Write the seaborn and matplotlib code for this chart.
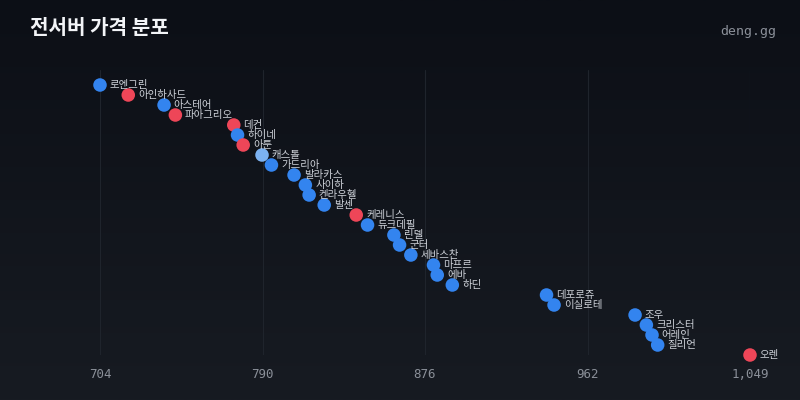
import numpy as np
import pandas as pd
import matplotlib
matplotlib.use("Agg")
from matplotlib import pyplot as plt
from matplotlib.colors import LinearSegmentedColormap
import seaborn as sns

servers = ['로엔그린', '아인하사드', '아스테어', '파아그리오', '데컨', '하이네', '아툰',
           '캐스톨', '가드리아', '발라카스', '사이하', '켄라우헬', '발센', '케레니스',
           '듀크데필', '린델', '군터', '세바스찬', '마프르', '에바', '하딘',
           '데포로쥬', '이실로테', '조우', '크리스터', '어레인', '질리언', '오렌']
prices = [704, 719, 738, 744, 775, 777, 780,
          790, 795, 807, 813, 815, 823, 840,
          846, 860, 863, 869, 881, 883, 891,
          941, 945, 988, 994, 997, 1000, 1049]
kinds = ['blue', 'red', 'blue', 'red', 'red', 'blue', 'red',
         'light', 'blue', 'blue', 'blue', 'blue', 'blue', 'red',
         'blue', 'blue', 'blue', 'blue', 'blue', 'blue', 'blue',
         'blue', 'blue', 'blue', 'blue', 'blue', 'blue', 'red']

palette = {'blue': '#3384ef', 'red': '#ee4658', 'light': '#7cb2f2'}

df = pd.DataFrame({'server': servers, 'price': prices, 'kind': kinds})
df['rank'] = range(len(df))

sns.set_style('dark')
plt.rcParams['font.family'] = ['Noto Sans CJK KR', 'DejaVu Sans']

fig = plt.figure(figsize=(8, 4), dpi=100)

# background gradient
bg = fig.add_axes([0, 0, 1, 1], zorder=-10)
cmap = LinearSegmentedColormap.from_list('bg', ['#0c0f16', '#171b22'])
bg.imshow(np.linspace(0, 1, 256).reshape(-1, 1), aspect='auto', cmap=cmap,
          extent=[0, 1, 0, 1])
bg.axis('off')

ax = fig.add_axes([100 / 800, 45 / 400, 650 / 800, 285 / 400])
ax.set_facecolor('none')

lo, hi = min(prices), max(prices)
ticks = np.linspace(lo, hi, 5)
for t in ticks:
    ax.axvline(t, color='#1f242c', lw=0.8, zorder=0)

sns.scatterplot(data=df, x='price', y='rank', hue='kind', palette=palette,
                s=95, edgecolor='none', legend=False, ax=ax, clip_on=False, zorder=3)

for _, r in df.iterrows():
    ax.annotate(r['server'], (r['price'], r['rank']), xytext=(7, 0),
                textcoords='offset points', va='center', ha='left',
                fontsize=7.5, color='#cdd1d8', zorder=4, annotation_clip=False)

ax.set_xlim(lo, hi)
ax.set_ylim(len(df) - 1, -1.5)
ax.set_xticks(ticks)
ax.set_xticklabels([f'{int(t):,}' for t in ticks], family='DejaVu Sans Mono',
                   fontsize=9, color='#8b9099')
ax.set_yticks([])
ax.tick_params(axis='x', length=0, pad=9)
ax.set_xlabel('')
ax.set_ylabel('')
ax.grid(False)
for s in ax.spines.values():
    s.set_visible(False)

fig.text(30 / 800, 1 - 28 / 400, '전서버 가격 분포', fontsize=14.5, fontweight='bold',
         color='#f2f4f7', va='center', ha='left')
fig.text(776 / 800, 1 - 32 / 400, 'deng.gg', family='DejaVu Sans Mono', fontsize=9.5,
         color='#8b9099', va='center', ha='right')

fig.savefig('out.png', dpi=100, facecolor='#0c0f16')
